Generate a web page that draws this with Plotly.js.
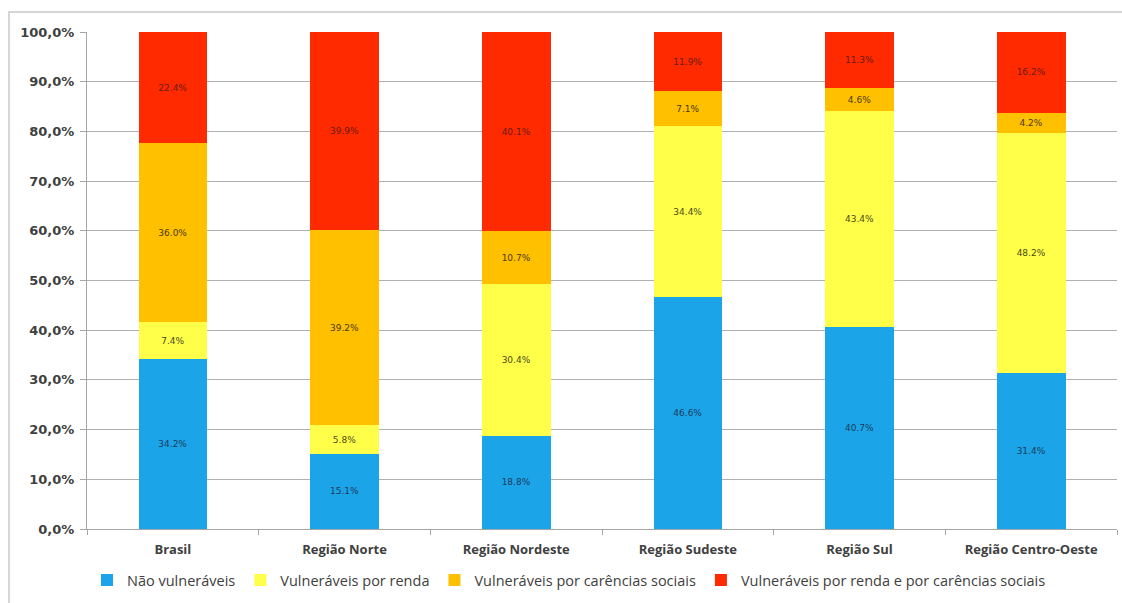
<!DOCTYPE html>
<html>
<head>
<meta charset="utf-8">
<script src="https://cdn.plot.ly/plotly-3.0.1.min.js"></script>
<style>
  html, body { margin: 0; padding: 0; background: #ffffff; overflow: hidden; }
  #wrap { position: relative; width: 1122px; height: 603px; overflow: hidden; }
  #frame { position: absolute; left: 8px; top: 11px; width: 1140px; height: 620px;
           border: 2px solid #d6d6d6; box-sizing: border-box; pointer-events: none; }
  #chart { width: 1122px; height: 603px; }
</style>
</head>
<body>
<div id="wrap">
  <div id="chart"></div>
  <div id="frame"></div>
</div>
<script>
// Regions of Brazil
const regioes = ["Brasil", "Região Norte", "Região Nordeste", "Região Sudeste", "Região Sul", "Região Centro-Oeste"];

// Share of population (%) in each group
const naoVulneraveis = [34.2, 15.1, 18.8, 46.6, 40.7, 31.4];
const vulnRenda = [7.4, 5.8, 30.4, 34.4, 43.4, 48.2];
const vulnCarencias = [36.0, 39.2, 10.7, 7.1, 4.6, 4.2];
const vulnRendaCarencias = [22.4, 39.9, 40.1, 11.9, 11.3, 16.2];

// Y axis ticks
const yTickVals = [0, 10, 20, 30, 40, 50, 60, 70, 80, 90, 100];
const yTickText = ["0,0%", "10,0%", "20,0%", "30,0%", "40,0%", "50,0%", "60,0%", "70,0%", "80,0%", "90,0%", "100,0%"];

const series = [
  { name: "Não vulneráveis", values: naoVulneraveis, color: "#1ba5e8", text: "#1d3a5c" },
  { name: "Vulneráveis por renda", values: vulnRenda, color: "#ffff4a", text: "#4a4a1a" },
  { name: "Vulneráveis por carências sociais", values: vulnCarencias, color: "#ffc000", text: "#4a3a10" },
  { name: "Vulneráveis por renda e por carências sociais", values: vulnRendaCarencias, color: "#ff2a00", text: "#6a1a10" }
];

const traces = series.map(s => ({
  type: "bar",
  name: s.name,
  x: regioes,
  y: s.values,
  text: s.values.map(v => v.toFixed(1) + "%"),
  textposition: "inside",
  insidetextanchor: "middle",
  textangle: 0,
  textfont: { family: "DejaVu Sans", size: 9, color: s.text },
  marker: { color: s.color, line: { width: 0 } },
  hoverinfo: "x+y+name"
}));

const layout = {
  width: 1122,
  height: 603,
  barmode: "stack",
  bargap: 0.6,
  paper_bgcolor: "#ffffff",
  plot_bgcolor: "#ffffff",
  margin: { l: 87, r: 5, t: 32, b: 74 },
  showlegend: true,
  xaxis: {
    type: "category",
    showgrid: false,
    showline: true,
    linecolor: "#a6a6a6",
    linewidth: 1,
    ticks: "outside",
    tickson: "boundaries",
    ticklen: 5,
    tickcolor: "#a6a6a6",
    ticklabelstandoff: 8,
    tickfont: { family: "Open Sans, sans-serif", size: 13, color: "#404040", weight: "bold" },
    fixedrange: true
  },
  yaxis: {
    range: [0, 100],
    tickvals: yTickVals,
    ticktext: yTickText,
    showgrid: true,
    gridcolor: "#b0b0b0",
    gridwidth: 1,
    showline: true,
    linecolor: "#a6a6a6",
    linewidth: 1,
    ticks: "outside",
    ticklen: 6,
    tickcolor: "#a6a6a6",
    ticklabelstandoff: 3,
    tickfont: { family: "DejaVu Sans", size: 13, color: "#404040", weight: "bold" },
    zeroline: false,
    fixedrange: true
  },
  legend: {
    orientation: "h",
    x: 0.0,
    xanchor: "left",
    y: -0.103,
    yanchor: "middle",
    traceorder: "normal",
    itemwidth: 30,
    font: { family: "Open Sans, sans-serif", size: 14.5, color: "#404040" },
    bgcolor: "rgba(0,0,0,0)"
  }
};

Plotly.newPlot("chart", traces, layout, { displayModeBar: false, staticPlot: true });
</script>
</body>
</html>
